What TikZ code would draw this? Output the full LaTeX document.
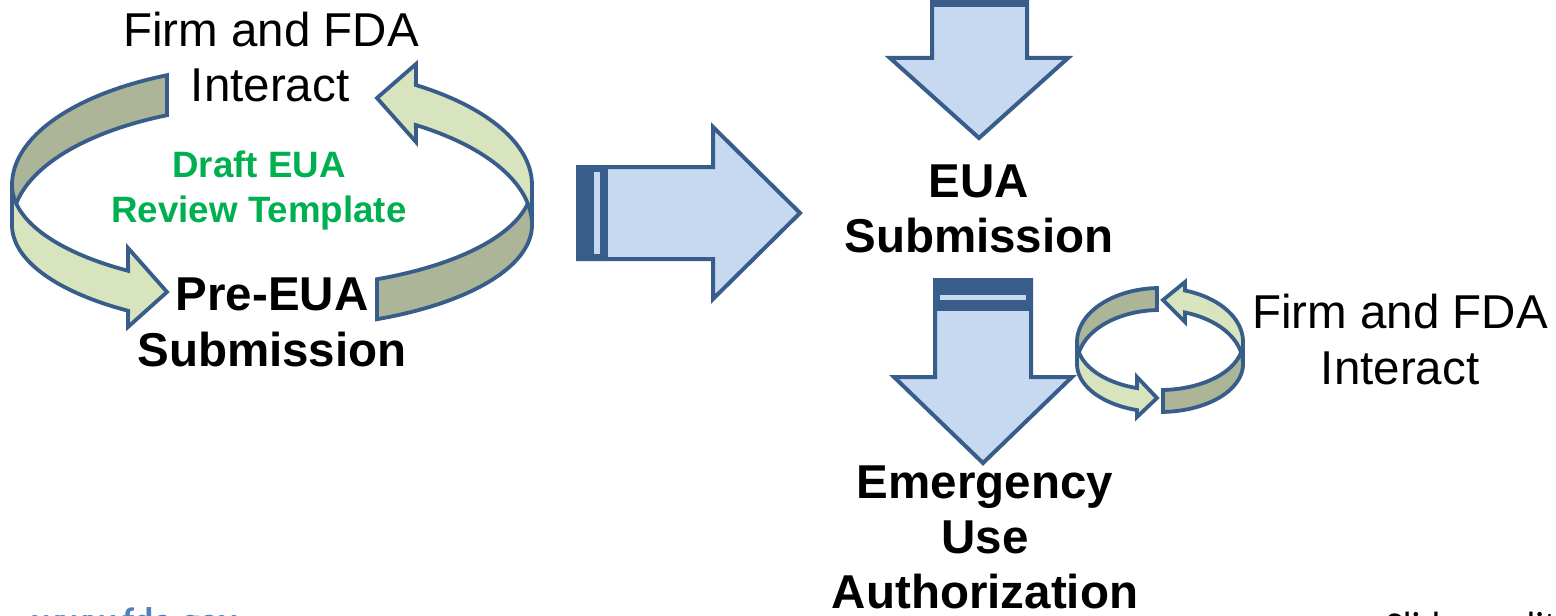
\documentclass[tikz,border=0pt]{standalone}
\usepackage{fontspec}
\setmainfont{Liberation Sans}
\newfontfamily\carlito{Carlito}
\definecolor{bord}{RGB}{56,93,138}
\definecolor{lgreen}{RGB}{215,228,189}
\definecolor{dgreen}{RGB}{172,181,152}
\definecolor{lblue}{RGB}{198,217,241}
\definecolor{tgreen}{RGB}{0,176,80}
\definecolor{fdablue}{RGB}{79,129,189}
\begin{document}
\begin{tikzpicture}[x=0.5pt,y=-0.5pt,
  band/.style={draw=bord, line width=1.9pt, line join=miter},
  backband/.style={band, fill=dgreen},
  frontband/.style={band, fill=lgreen},
  blockarrow/.style={draw=bord, line width=2pt, fill=lblue},
  darkbar/.style={fill=bord},
  lbl/.style={anchor=base, inner sep=0pt, font=\fontsize{23.75}{27.5}\selectfont},
  blbl/.style={anchor=base, inner sep=0pt, font=\fontsize{23.75}{27.5}\selectfont\bfseries},
  glbl/.style={anchor=base, inner sep=0pt, text=tgreen, font=\fontsize{18.35}{22}\selectfont\bfseries}]
\useasboundingbox (0,0) rectangle (1556,615);
\fill[white] (0,0) rectangle (1556,615);

% ---------- big ring (left) ----------
\path[backband] plot[domain=113.8:180, samples=40] ({272+260*cos(\x)},{185-120*sin(\x)})
  -- plot[domain=180:113.8, samples=40] ({272+260*cos(\x)},{225-120*sin(\x)}) -- cycle;
\path[backband] plot[domain=293.8:360, samples=40] ({272+260*cos(\x)},{185-103*sin(\x)})
  -- plot[domain=360:293.8, samples=40] ({272+260*cos(\x)},{225-103*sin(\x)}) -- cycle;
\path[frontband] plot[domain=180:236.4, samples=40] ({272+260*cos(\x)},{185-103*sin(\x)})
  -- (128,248) -- (167,292) -- (128,327)
  -- plot[domain=236.4:180, samples=40] ({272+260*cos(\x)},{225-103*sin(\x)}) -- cycle;
\path[frontband] plot[domain=0:56.4, samples=40] ({272+260*cos(\x)},{185-120*sin(\x)})
  -- (416,64) -- (377,98) -- (416,142)
  -- plot[domain=56.4:0, samples=40] ({272+260*cos(\x)},{225-120*sin(\x)}) -- cycle;

% ---------- small ring (right) ----------
\path[backband] plot[domain=92.1:180, samples=40] ({1160+83*cos(\x)},{342-54*sin(\x)})
  -- plot[domain=180:92.1, samples=40] ({1160+83*cos(\x)},{364-54*sin(\x)}) -- cycle;
\path[backband] plot[domain=272.1:360, samples=40] ({1160+83*cos(\x)},{342-48*sin(\x)})
  -- plot[domain=360:272.1, samples=40] ({1160+83*cos(\x)},{364-48*sin(\x)}) -- cycle;
\path[frontband] plot[domain=180:253.9, samples=40] ({1160+83*cos(\x)},{342-48*sin(\x)})
  -- (1137,377) -- (1157,398) -- (1137,417)
  -- plot[domain=253.9:180, samples=40] ({1160+83*cos(\x)},{364-48*sin(\x)}) -- cycle;
\path[frontband] plot[domain=0:72.5, samples=40] ({1160+83*cos(\x)},{342-54*sin(\x)})
  -- (1185,282) -- (1163,300) -- (1185,322)
  -- plot[domain=72.5:0, samples=40] ({1160+83*cos(\x)},{364-54*sin(\x)}) -- cycle;

% ---------- block arrows ----------
\path[blockarrow] (578,167) -- (713,167) -- (713,127) -- (800,213) -- (713,299) -- (713,259) -- (578,259) -- cycle;
\fill[darkbar] (577,166) rectangle (608,260);
\fill[lblue] (594,172) rectangle (600,254);

\path[blockarrow] (932,-10) -- (932,58) -- (890,58) -- (979,138) -- (1068,58) -- (1027,58) -- (1027,-10) -- cycle;
\fill[darkbar] (930,-10) rectangle (1029,7);

\path[blockarrow] (935,280) -- (935,377) -- (894,377) -- (983,463) -- (1072,377) -- (1031,377) -- (1031,280) -- cycle;
\fill[darkbar] (934,279) rectangle (1032,311);
\fill[lblue] (940,295) rectangle (1026,300);

% ---------- texts ----------
\node[lbl] (fa1) at (271,47) {Firm and FDA};
\node[lbl] (fa2) at (270,102) {Interact};
\node[glbl] (dr1) at (259,177) {Draft EUA};
\node[glbl] (dr2) at (259,222) {Review Template};
\node[blbl] (pe1) at (272,310) {Pre-EUA};
\node[blbl] (pe2) at (272,366) {Submission};
\node[blbl] (eu1) at (979,197) {EUA};
\node[blbl] (eu2) at (979,252) {Submission};
\node[blbl] (em1) at (985,498) {Emergency};
\node[blbl] (em2) at (985,553) {Use};
\node[blbl] (em3) at (985,608) {Authorization};
\node[lbl] (fb1) at (1400,328) {Firm and FDA};
\node[lbl] (fb2) at (1400,384) {Interact};
\node[anchor=base west, inner sep=0pt, text=fdablue, font=\carlito\fontsize{18.5}{22}\selectfont\bfseries] (web) at (32,633) {www.fda.gov};
\node[anchor=base west, inner sep=0pt, font=\carlito\fontsize{19}{22}\selectfont] (cred) at (1385,638) {Slide credit:};
\end{tikzpicture}
\end{document}
